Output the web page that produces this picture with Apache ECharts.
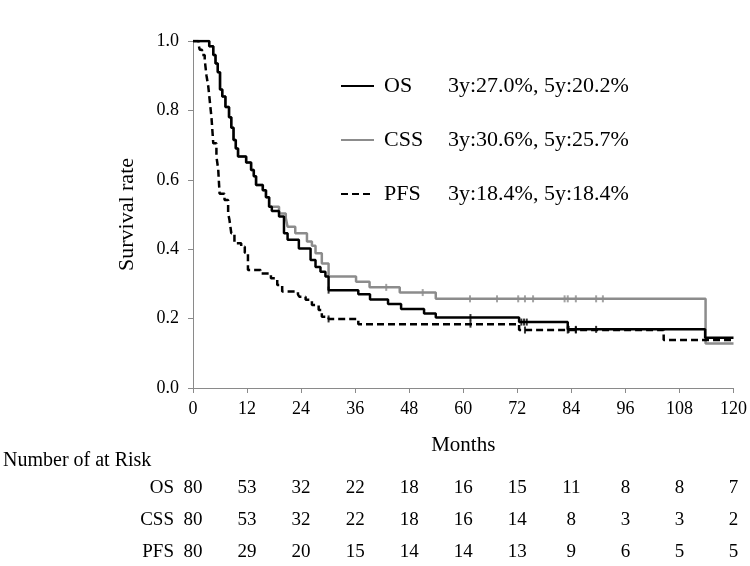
<!DOCTYPE html>
<html>
<head>
<meta charset="utf-8">
<script src="https://cdn.jsdelivr.net/npm/echarts@6/dist/echarts.min.js"></script>
<style>
  html, body { margin: 0; padding: 0; background: #fff; }
  #main { width: 750px; height: 566px; }
</style>
</head>
<body>
<div id="main"></div>
<script>
// Kaplan-Meier steps: [month, survival] - value changes at that month
var osSteps = [[0,1],[3.6,0.985],[4.5,0.96],[5.0,0.935],[5.5,0.91],[6.0,0.86],[6.5,0.84],[7.2,0.81],[8.0,0.78],[8.5,0.75],[9.0,0.715],[9.5,0.69],[10.0,0.667],[11.8,0.65],[12.9,0.628],[13.5,0.61],[14.0,0.585],[15.5,0.57],[16.2,0.55],[16.9,0.522],[17.5,0.51],[19.1,0.494],[20.2,0.446],[21.0,0.427],[23.5,0.402],[26.1,0.369],[27.2,0.349],[28.3,0.335],[29.4,0.321],[30.1,0.282],[36.7,0.27],[39.3,0.255],[43.3,0.242],[46.2,0.228],[51.3,0.215],[53.9,0.203],[72.4,0.19],[83.2,0.169],[113.7,0.145],[120,0.145]]
var cssSteps = [[0,1],[3.6,0.985],[4.5,0.96],[5.0,0.935],[5.5,0.91],[6.0,0.86],[6.5,0.84],[7.2,0.81],[8.0,0.78],[8.5,0.75],[9.0,0.715],[9.5,0.69],[10.0,0.667],[11.8,0.65],[12.9,0.628],[13.5,0.61],[14.0,0.585],[15.5,0.57],[16.2,0.55],[16.9,0.522],[19.1,0.503],[20.6,0.49],[21.0,0.465],[22.7,0.446],[25.3,0.422],[26.4,0.41],[27.2,0.388],[28.6,0.359],[30.1,0.321],[36.2,0.306],[39.2,0.29],[45.9,0.275],[53.9,0.257],[113.8,0.128],[120,0.128]]
var pfsSteps = [[0,1],[1.2,0.99],[1.5,0.975],[2.0,0.96],[2.6,0.945],[3.0,0.9],[3.4,0.868],[3.7,0.83],[4.1,0.78],[4.5,0.705],[5.2,0.667],[5.6,0.63],[5.9,0.56],[7.0,0.542],[7.8,0.503],[8.1,0.484],[8.5,0.446],[9.2,0.417],[10.7,0.407],[11.5,0.39],[12.2,0.34],[15.0,0.33],[17.3,0.316],[18.7,0.297],[19.8,0.278],[23.3,0.27],[23.6,0.263],[25.0,0.254],[26.4,0.239],[27.9,0.225],[28.6,0.205],[30.1,0.199],[36.7,0.184],[72.4,0.167],[104.5,0.138],[120,0.138]]

// censored observations
var osCensor = [[30.1,0.282],[61.6,0.203],[72.9,0.19],[73.5,0.19],[74.1,0.19],[83.4,0.169],[85,0.169],[89.5,0.169]]
var cssCensor = [[42.9,0.29],[51,0.275],[61.5,0.257],[67.5,0.257],[72.2,0.257],[73.7,0.257],[75.5,0.257],[82.5,0.257],[83.2,0.257],[85,0.257],[89.5,0.257],[91,0.257]]
var pfsCensor = [[30.1,0.199],[61.6,0.184],[73.7,0.167],[83.2,0.167],[85,0.167]]

var seriesNames = ['OS', 'CSS', 'PFS']
var rateText = ['3y:27.0%, 5y:20.2%', '3y:30.6%, 5y:25.7%', '3y:18.4%, 5y:18.4%']

var riskMonths = [0, 12, 24, 36, 48, 60, 72, 84, 96, 108, 120]
var riskOS = [80, 53, 32, 22, 18, 16, 15, 11, 8, 8, 7]
var riskCSS = [80, 53, 32, 22, 18, 16, 14, 8, 3, 3, 2]
var riskPFS = [80, 29, 20, 15, 14, 14, 13, 9, 6, 5, 5]

var FONT = "'Liberation Serif', 'Times New Roman', serif"
var axisGray = '#8a8a8a'

var chart = echarts.init(document.getElementById('main'))

var option = {
  backgroundColor: '#fff',
  animation: false,
  textStyle: { fontFamily: FONT, color: '#000' },
  grid: { left: 193, right: 13, top: 41, bottom: 178 },
  legend: {
    data: seriesNames,
    orient: 'vertical',
    left: 340,
    top: 75,
    padding: 0,
    itemWidth: 33,
    itemHeight: 14,
    itemGap: 32,
    itemStyle: { opacity: 0 },
    formatter: function (name) {
      var i = seriesNames.indexOf(name)
      return '{n|' + name + '}{v|' + rateText[i] + '}'
    },
    textStyle: {
      fontFamily: FONT,
      fontSize: 22,
      color: '#000',
      rich: {
        n: { fontFamily: FONT, fontSize: 22, width: 64, padding: [0, 0, 0, 5], lineHeight: 24 },
        v: { fontFamily: FONT, fontSize: 22, lineHeight: 24 }
      }
    }
  },
  xAxis: {
    type: 'value',
    min: 0,
    max: 120,
    interval: 12,
    name: 'Months',
    nameLocation: 'middle',
    nameGap: 47,
    nameTextStyle: { fontFamily: FONT, fontSize: 21, color: '#000' },
    axisLine: { lineStyle: { color: axisGray, width: 1 } },
    axisTick: { show: true, length: 5, lineStyle: { color: axisGray } },
    axisLabel: { fontFamily: FONT, fontSize: 18, color: '#000', margin: 12 },
    splitLine: { show: false }
  },
  yAxis: {
    type: 'value',
    min: 0,
    max: 1,
    interval: 0.2,
    name: 'Survival rate',
    nameLocation: 'middle',
    nameGap: 55,
    nameTextStyle: { fontFamily: FONT, fontSize: 22, color: '#000' },
    axisLine: { show: true, lineStyle: { color: axisGray, width: 1 } },
    axisTick: { show: true, length: 5, lineStyle: { color: axisGray } },
    axisLabel: {
      fontFamily: FONT, fontSize: 18, color: '#000', margin: 14,
      formatter: function (v) { return v.toFixed(1) }
    },
    splitLine: { show: false }
  },
  series: [
    {
      name: 'OS', type: 'line', step: 'end', data: osSteps, symbol: 'none', z: 4,
      lineStyle: { color: '#000', width: 2.5 }, itemStyle: { color: '#000' }
    },
    {
      name: 'CSS', type: 'line', step: 'end', data: cssSteps, symbol: 'none', z: 3,
      lineStyle: { color: '#8c8c8c', width: 2.5 }, itemStyle: { color: '#8c8c8c' }
    },
    {
      name: 'PFS', type: 'line', step: 'end', data: pfsSteps, symbol: 'none', z: 5,
      lineStyle: { color: '#000', width: 2.5, type: [7, 4] }, itemStyle: { color: '#000' }
    },
    {
      name: 'OS censored', type: 'scatter', data: osCensor, symbol: 'rect', symbolSize: [2, 7], z: 6,
      itemStyle: { color: '#000' }
    },
    {
      name: 'CSS censored', type: 'scatter', data: cssCensor, symbol: 'rect', symbolSize: [2, 7], z: 6,
      itemStyle: { color: '#8c8c8c' }
    },
    {
      name: 'PFS censored', type: 'scatter', data: pfsCensor, symbol: 'rect', symbolSize: [2, 7], z: 6,
      itemStyle: { color: '#000' }
    }
  ]
}
chart.setOption(option)

// number-at-risk table under the x axis, positioned with the axis scale
var rows = [
  { label: 'OS', vals: riskOS, y: 488 },
  { label: 'CSS', vals: riskCSS, y: 520 },
  { label: 'PFS', vals: riskPFS, y: 552 }
]
var graphics = [{
  type: 'text', left: 3, top: 451,
  style: { text: 'Number of at Risk', font: '20px ' + FONT, fill: '#000' }
}]
rows.forEach(function (r) {
  graphics.push({
    type: 'text', x: 174, y: r.y,
    style: { text: r.label, font: '19px ' + FONT, fill: '#000', align: 'right', verticalAlign: 'middle' }
  })
  riskMonths.forEach(function (m, i) {
    var px = chart.convertToPixel({ xAxisIndex: 0 }, m)
    graphics.push({
      type: 'text', x: px, y: r.y,
      style: { text: String(r.vals[i]), font: '19px ' + FONT, fill: '#000', align: 'center', verticalAlign: 'middle' }
    })
  })
})
chart.setOption({ graphic: graphics })
</script>
</body>
</html>
